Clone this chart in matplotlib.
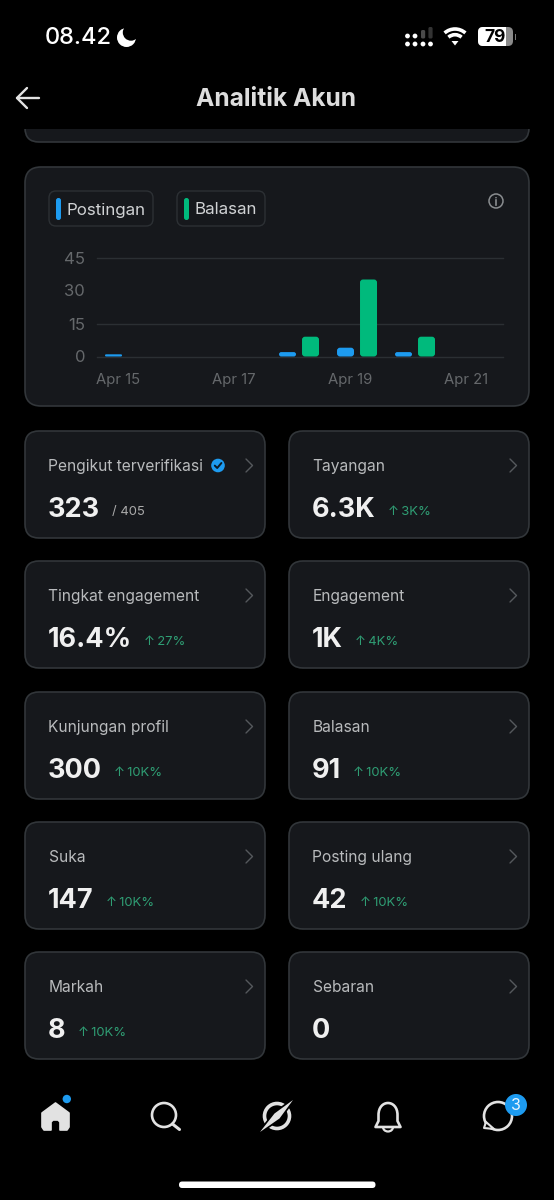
import matplotlib
matplotlib.use("Agg")
import matplotlib.pyplot as plt
from matplotlib.patches import FancyBboxPatch, Circle, Polygon, Rectangle, Arc, PathPatch
from matplotlib.path import Path

plt.rcParams['font.family'] = ['Inter', 'DejaVu Sans']

# chart data
days = ['Apr 15', 'Apr 16', 'Apr 17', 'Apr 18', 'Apr 19', 'Apr 20', 'Apr 21']
postingan = [1, 0, 0, 2, 4, 2, 0]
balasan = [0, 0, 0, 9, 35, 9, 0]
y_ticks = [0, 15, 30, 45]
grid_values = [0, 15, 45]
x_label_days = ['Apr 15', 'Apr 17', 'Apr 19', 'Apr 21']

# metric cards, left to right
card_titles = ['Pengikut terverifikasi', 'Tayangan', 'Tingkat engagement', 'Engagement',
               'Kunjungan profil', 'Balasan', 'Suka', 'Posting ulang', 'Markah', 'Sebaran']
card_values = ['323', '6.3K', '16.4%', '1K', '300', '91', '147', '42', '8', '0']
card_deltas = ['/ 405', '↑\u20093K%', '↑\u200927%', '↑\u20094K%', '↑\u200910K%',
               '↑\u200910K%', '↑\u200910K%', '↑\u200910K%', '↑\u200910K%', '']

BG = '#000000'
CARD = '#16181c'
EDGE = '#32363a'
BLUE = '#1d9bf0'
GREEN = '#00ba7c'
DELTA = '#2f9e74'
ICON = '#e2e2e2'

W, H = 554, 1200
fig = plt.figure(figsize=(W / 100, H / 100), dpi=100, facecolor=BG)
ui = fig.add_axes([0, 0, 1, 1])
ui.set_xlim(0, W)
ui.set_ylim(H, 0)
ui.axis('off')


def card(x0, y0, x1, y1, r=14, fc=CARD, ec=EDGE, lw=1.2, z=1):
    p = FancyBboxPatch((x0 + r, y0 + r), x1 - x0 - 2 * r, y1 - y0 - 2 * r,
                       boxstyle=f'round,pad={r},rounding_size={r}', fc=fc, ec=ec, lw=lw, zorder=z)
    ui.add_patch(p)
    return p


def stroke(xs, ys, color=ICON, lw=1.6, z=5):
    ui.plot(xs, ys, color=color, lw=lw, solid_capstyle='round', solid_joinstyle='round', zorder=z)


# status bar
ui.text(44.5, 38, '08.42', color='white', fontsize=17, fontweight='medium', va='center', ha='left')
ui.add_patch(Circle((126.5, 37.5), 9.5, fc='white', lw=0, zorder=3))
ui.add_patch(Circle((131, 32.5), 8.2, fc=BG, lw=0, zorder=4))
for i, dot_x in enumerate([407.5, 415, 423, 430.5]):
    ui.add_patch(Circle((dot_x, 44), 2.4, fc='white', lw=0))
    if i < 2:
        ui.add_patch(Circle((dot_x, 36), 2.4, fc='white', lw=0))
card(421, 30, 425.2, 38.5, r=1.5, fc='#4a4a4a', ec='none', lw=0, z=2)
card(428.4, 27, 432.6, 38.5, r=1.5, fc='#333333', ec='none', lw=0, z=2)
for r in [15.5, 9.8]:
    ui.add_patch(Arc((455, 44.5), 2 * r, 2 * r, theta1=228, theta2=312, color='white', lw=2.6, zorder=3))
ui.add_patch(Polygon([[451.5, 41], [458.5, 41], [455, 45.5]], fc='white', lw=0))
card(478, 27, 513, 46, r=5, fc='#8a8a8a', ec='none', lw=0, z=3)
card(478, 27, 492, 46, r=5, fc='white', ec='none', lw=0, z=3)
ui.add_patch(Rectangle((484, 27), 22, 19, fc='white', lw=0, zorder=4))
ui.add_patch(Rectangle((514.5, 33.5), 1.5, 6, fc='#777777', lw=0, zorder=3))
ui.text(495, 37.5, '79', color='black', fontsize=12.5, fontweight='bold', ha='center', va='center', zorder=5)

# card scrolled under the header, clipped by a black band
card(25, 60, 529, 142, r=14, z=1)
ui.add_patch(Rectangle((0, 50), W, 79, fc=BG, lw=0, zorder=2))

# header
stroke([17, 39], [98, 98], lw=1.7, z=6)
stroke([27, 17, 27], [88, 98, 108], lw=1.7, z=6)
ui.text(276.5, 99.5, 'Analitik Akun', color='#dddddd', fontsize=17.7, fontweight='bold',
        ha='center', va='center', zorder=6)

# chart card and legend
card(25, 167, 529, 406, r=16)
card(49, 191, 153, 226, r=7, lw=1, ec='#2c3034', z=2)
card(177, 191, 265, 226, r=7, lw=1, ec='#2c3034', z=2)
card(56, 198, 61, 220, r=2.4, fc=BLUE, ec='none', lw=0, z=3)
card(184, 198, 189, 220, r=2.4, fc=GREEN, ec='none', lw=0, z=3)
ui.text(67, 210, 'Postingan', color='#d0d2d4', fontsize=12.2, va='center', zorder=3)
ui.text(195, 210, 'Balasan', color='#d0d2d4', fontsize=12.2, va='center', zorder=3)
ui.add_patch(Circle((496, 201), 7, fc='none', ec='#8a8d90', lw=1.1, zorder=3))
ui.plot([496, 496], [200, 204.5], color='#8a8d90', lw=1.2, zorder=3)
ui.add_patch(Circle((496, 197.7), 0.8, fc='#8a8d90', lw=0, zorder=3))

# bar chart: pixel spans 97..503 across, y 0 at 356.5 and 45 at 257.5
ax = fig.add_axes([97 / W, 1 - 356.5 / H, 406 / W, 99 / H], facecolor='none')
ax.set_xlim(-0.483, 6.517)
ax.set_ylim(0, 45)
x = list(range(len(days)))
width = 17 / 58
offset = 11.5 / 58
post_bars = ax.bar([i - offset for i in x], postingan, width, color=BLUE, zorder=3)
bal_bars = ax.bar([i + offset for i in x], balasan, width, color=GREEN, zorder=3)
for bars, col in [(post_bars, BLUE), (bal_bars, GREEN)]:
    for b in bars:
        h = b.get_height()
        b.set_visible(False)
        if h == 0:
            continue
        r_px = min(3, h * 2.2 / 2)
        ax.add_patch(FancyBboxPatch((b.get_x(), 0), b.get_width(), h,
                                    boxstyle=f'round,pad=0,rounding_size={r_px / 58}',
                                    mutation_aspect=58 / 2.2, fc=col, lw=0, zorder=3, clip_on=False))
for v in grid_values:
    ax.axhline(v, color='#2b2f33', lw=1.0, zorder=1, clip_on=False)
for s in ax.spines.values():
    s.set_visible(False)
ax.set_yticks(y_ticks)
ax.set_yticklabels([str(v) for v in y_ticks], fontsize=12)
ax.set_xticks([days.index(d) - 7 / 58 for d in x_label_days])
ax.set_xticklabels(x_label_days, fontsize=10.7)
ax.tick_params(length=0, colors='#65686b')
ax.tick_params(axis='x', pad=12)
ax.tick_params(axis='y', pad=8.5)

# metric cards
row_tops = [431, 561, 692, 822, 952]
col_lefts = [25, 289]
fig.canvas.draw()
renderer = fig.canvas.get_renderer()
for i, title in enumerate(card_titles):
    cx = col_lefts[i % 2]
    cy = row_tops[i // 2]
    card(cx, cy, cx + 240, cy + 107, r=14)
    ui.text(cx + 23.5, cy + 35.5, title, color='#b9bbbd', fontsize=11.2, va='center', zorder=3)
    stroke([cx + 221, cx + 227.5, cx + 221], [cy + 28, cy + 34.5, cy + 41], color='#55585c', lw=1.0)
    t = ui.text(cx + 23, cy + 79, card_values[i], color='#f0f0f0', fontsize=19.5, fontweight='bold',
                va='center', zorder=3)
    delta = card_deltas[i]
    if delta:
        ext = t.get_window_extent(renderer)
        col = '#aaaaaa' if i == 0 else DELTA
        ui.text(ext.x1 + 12, cy + 81, delta, color=col, fontsize=9.4, va='center', zorder=3)

# verified badge
ui.add_patch(Circle((218, 465.5), 6.8, fc=BLUE, lw=0, zorder=4))
stroke([214.8, 217.2, 221.4], [465.6, 468, 463], color='#0b1a26', lw=1.4)

# bottom nav: home
ui.add_patch(Polygon([[42, 1113], [42, 1127], [44, 1130], [51, 1130], [51, 1122], [53, 1120], [58, 1120],
                      [60, 1122], [60, 1130], [67, 1130], [69, 1127], [69, 1113], [55.5, 1103]],
                     fc=ICON, ec=ICON, lw=1.2, joinstyle='round', zorder=4))
ui.add_patch(Circle((66.8, 1099), 4.2, fc=BLUE, lw=0, zorder=5))
# search
ui.add_patch(Circle((164, 1115), 12, fc='none', ec=ICON, lw=1.9, zorder=4))
stroke([172.5, 179.5], [1124, 1129.5], lw=2.2)
# compass
ui.add_patch(Circle((277, 1116), 12.5, fc='none', ec=ICON, lw=2.6, zorder=4))
needle = [[293, 1100], [279.5, 1118.5], [260, 1132], [274.5, 1113.5]]
ui.add_patch(Polygon(needle, fc=ICON, ec=BG, lw=2.5, joinstyle='round', zorder=5))
ui.add_patch(Polygon(needle, fc=ICON, lw=0, zorder=6))
# bell
bell = Path([(375.5, 1127), (378.5, 1121), (378.5, 1115), (378.5, 1099), (397.5, 1099), (397.5, 1115),
             (397.5, 1121), (400.5, 1127), (375.5, 1127)],
            [Path.MOVETO, Path.LINETO, Path.LINETO, Path.CURVE4, Path.CURVE4, Path.CURVE4,
             Path.LINETO, Path.LINETO, Path.CLOSEPOLY])
ui.add_patch(PathPatch(bell, fc='none', ec=ICON, lw=1.9, joinstyle='round', zorder=4))
ui.add_patch(Arc((388, 1127), 10, 9, theta1=0, theta2=180, color=ICON, lw=1.6, zorder=4))
# chat
ui.add_patch(Circle((498, 1116), 14, fc='none', ec=ICON, lw=1.9, zorder=4))
ui.add_patch(Polygon([[486, 1122], [484, 1128], [494, 1129]], fc=BG, ec=ICON, lw=1.5, joinstyle='round', zorder=4))
ui.add_patch(Circle((516, 1105), 11, fc=BLUE, lw=0, zorder=5))
ui.text(516, 1105.5, '3', color='#e8f4fd', fontsize=11.5, ha='center', va='center', zorder=6)
# home indicator
card(179, 1181.5, 375.5, 1188, r=3.2, fc='white', ec='none', lw=0, z=3)

fig.savefig('out.png', dpi=100, facecolor=BG)
